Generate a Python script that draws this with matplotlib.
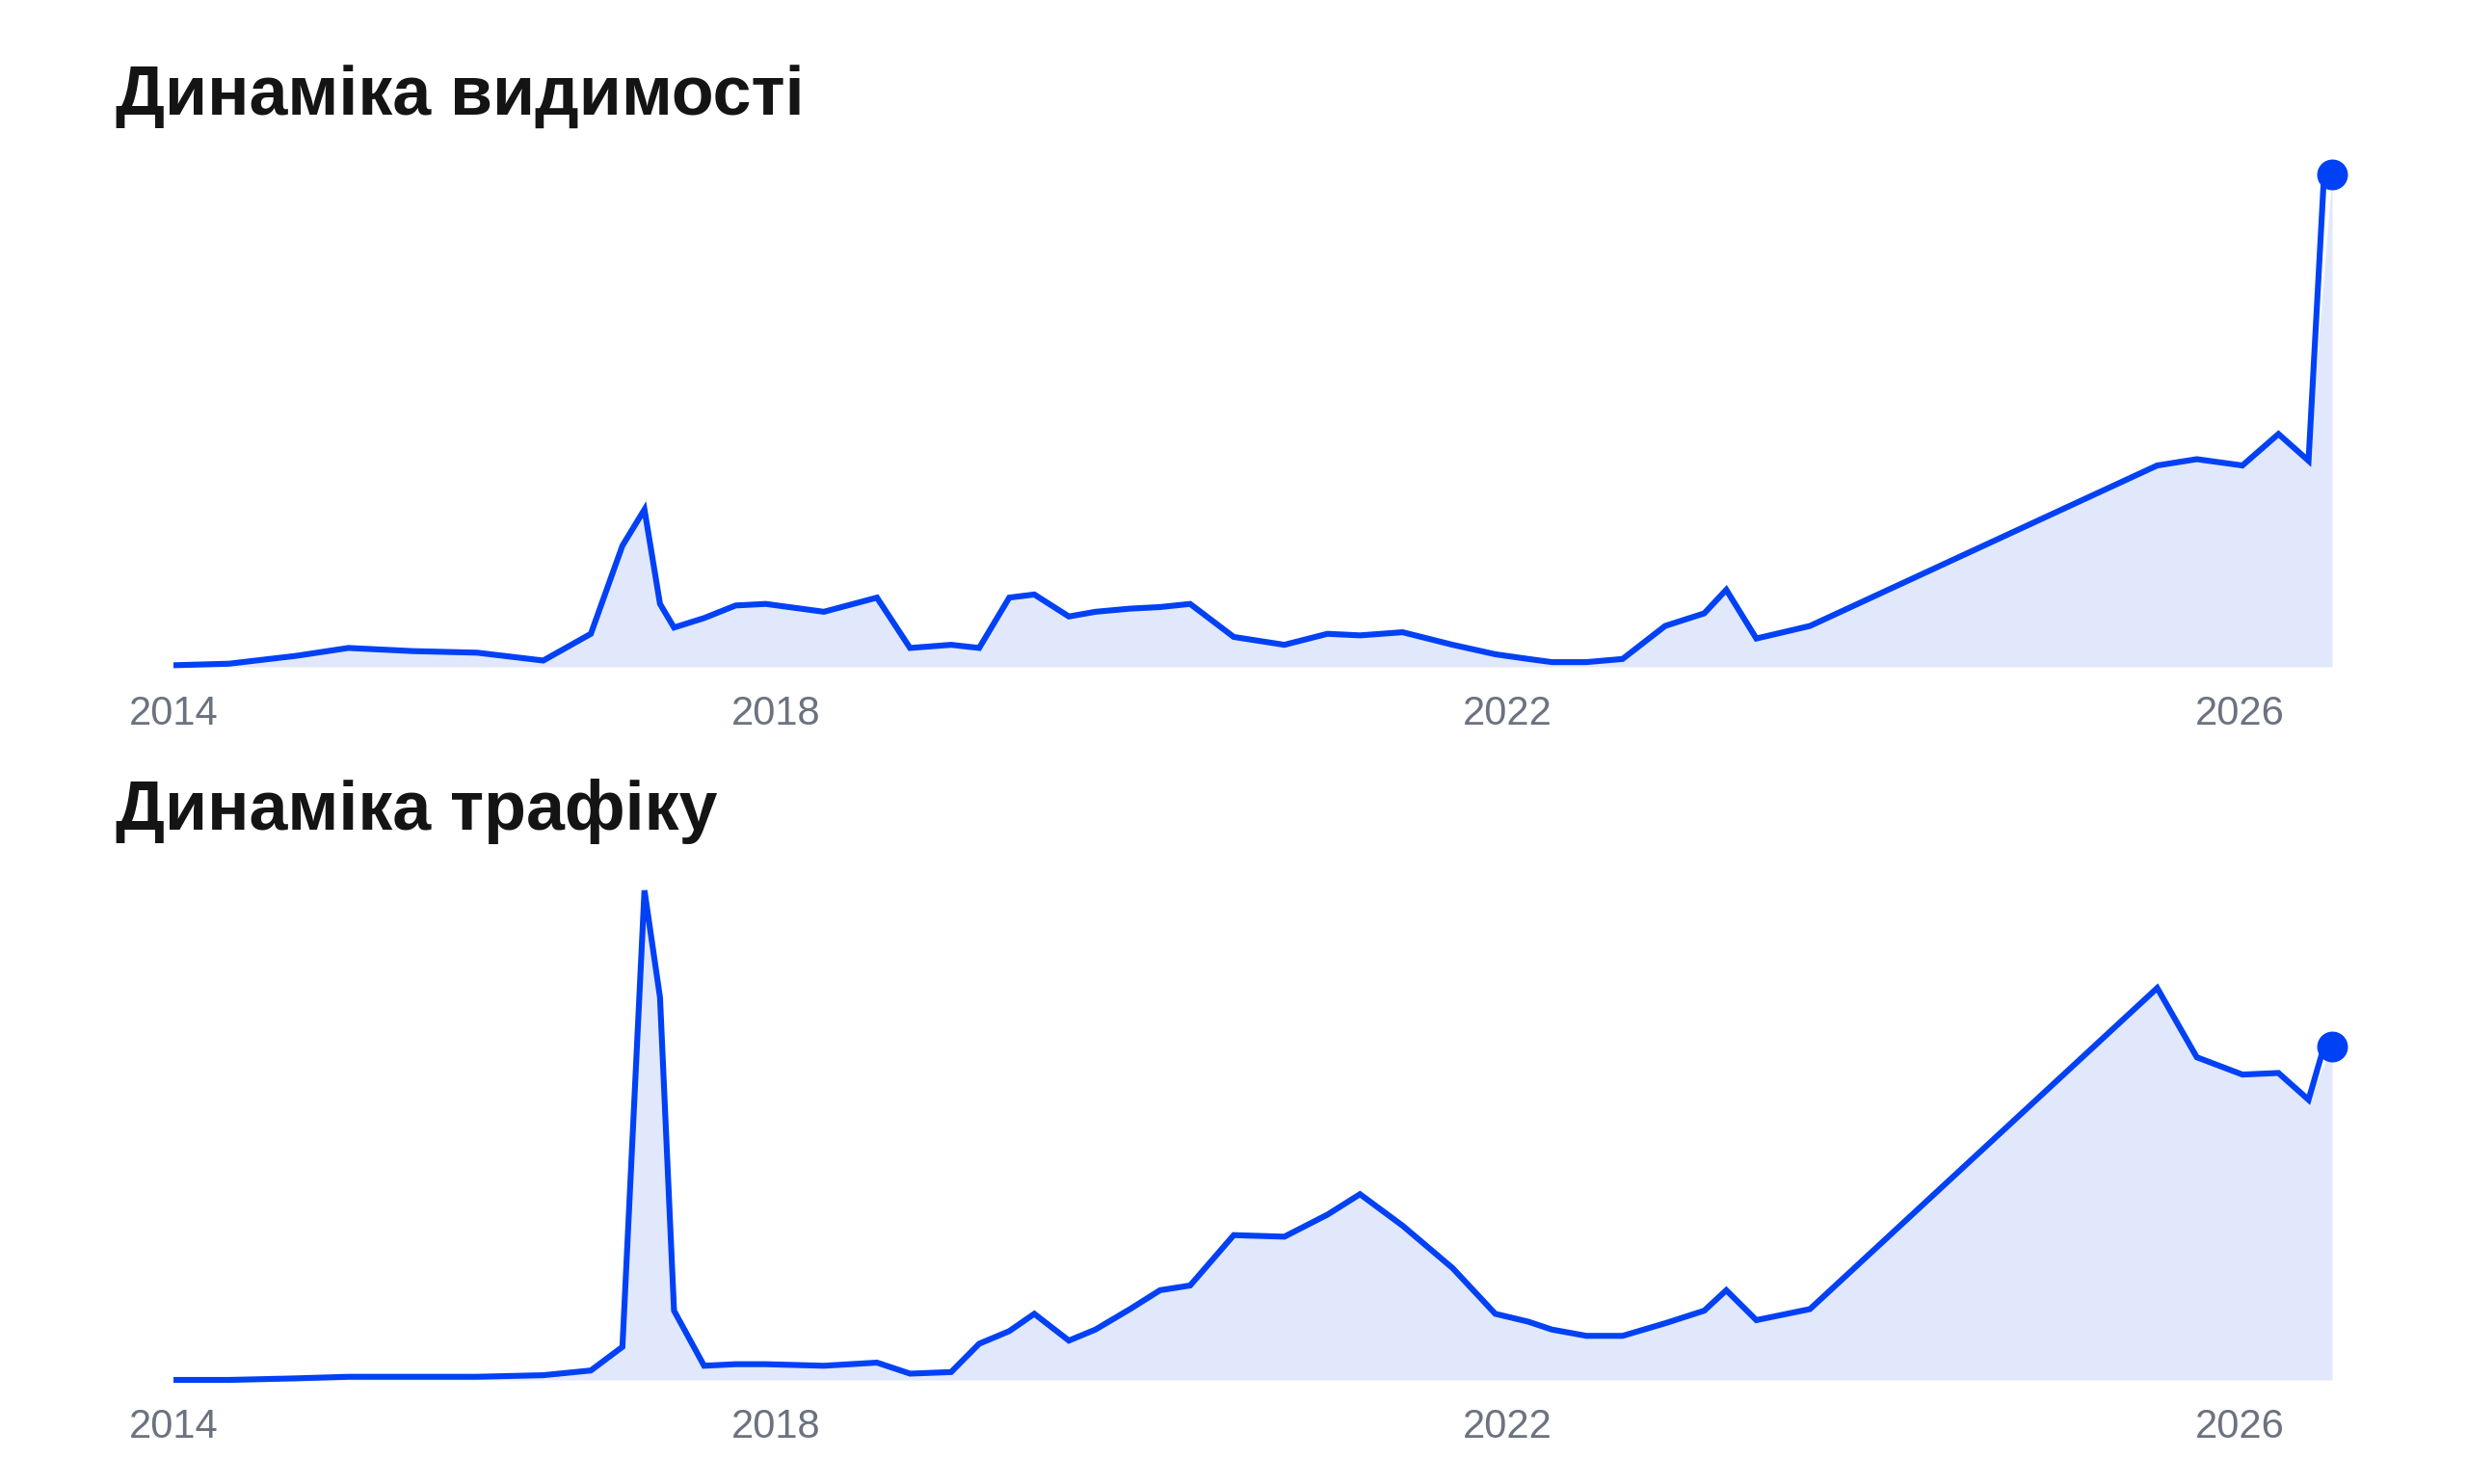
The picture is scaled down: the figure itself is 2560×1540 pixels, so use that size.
import matplotlib
matplotlib.use("Agg")
import matplotlib.pyplot as plt
import numpy as np
import pandas as pd

# ---- data ----
dates = [
    "2014-09-17", "2015-01-06", "2015-05-20", "2015-09-01", "2016-01-08", "2016-05-15",
    "2016-09-24", "2016-12-28", "2017-03-01", "2017-04-14", "2017-05-15", "2017-06-12",
    "2017-08-11", "2017-10-13", "2017-12-12", "2018-04-07", "2018-07-22", "2018-09-26",
    "2018-12-17", "2019-02-11", "2019-04-12", "2019-06-01", "2019-08-09", "2019-10-01",
    "2019-12-09", "2020-02-07", "2020-04-07", "2020-07-03", "2020-10-12", "2021-01-06",
    "2021-03-12", "2021-06-05", "2021-09-13", "2021-12-07", "2022-02-11", "2022-03-30",
    "2022-06-07", "2022-08-18", "2022-11-11", "2023-01-28", "2023-03-13", "2023-05-12",
    "2023-08-27", "2025-07-20", "2025-10-07", "2026-01-06", "2026-03-19", "2026-05-18",
    "2026-07-04",
]
# the stroked line stops slightly before the last (marker / area) point
line_end_date = "2026-06-18"
visibility = [
    1, 2, 7, 12, 10, 9, 4, 21, 77, 100, 40, 25, 31, 39, 40, 35, 44, 12, 14, 12,
    44, 46, 32, 35, 37, 38, 40, 19, 14, 21, 20, 22, 14, 8, 5, 3, 3, 5, 26, 34,
    49, 18, 26, 128, 132, 128, 148, 131, 313,
]
traffic = [
    0, 0, 1, 2, 2, 2, 3, 6, 21, 311, 243, 44, 9, 10, 10, 9, 11, 4, 5, 23,
    31, 42, 25, 32, 45, 57, 60, 92, 91, 105, 118, 98, 71, 42, 37, 32, 28, 28, 36, 44,
    57, 38, 45, 249, 205, 194, 195, 178, 212,
]
titles = ["Динаміка видимості", "Динаміка трафіку"]
tick_dates = ["2014-09-17", "2018-01-01", "2022-01-01", "2026-01-01"]
tick_labels = ["2014", "2018", "2022", "2026"]

LINE = "#0041F5"
FILL = "#E2E8FC"
GRAY = "#6B7280"
TITLE = "#141414"

plt.rcParams["font.family"] = ["Liberation Sans", "DejaVu Sans"]

W, H = 2560, 1540
fig = plt.figure(figsize=(W / 100, H / 100), dpi=100)
fig.patch.set_facecolor("white")

x = pd.to_datetime(dates)
xl = pd.to_datetime(dates[:-1] + [line_end_date])
xt = pd.to_datetime(tick_dates)

# axes boxes in pixels: (left, right, baseline_y, top_y)
boxes = [(180, 2420, 692, 181), (180, 2420, 1432, 924)]
title_base = [120, 861]
series = [visibility, traffic]

for i in range(2):
    l, r, b, t = boxes[i]
    ax = fig.add_axes([l / W, 1 - b / H, (r - l) / W, (b - t) / H])
    y = np.array(series[i], dtype=float)
    ax.fill_between(x, 0, y, color=FILL, linewidth=0, zorder=1)
    ax.plot(xl, y, color=LINE, linewidth=4.4, solid_joinstyle="miter",
            solid_capstyle="butt", clip_on=False, zorder=3)
    ax.plot(x[-1:], y[-1:], "o", color=LINE, markersize=23, markeredgewidth=0,
            clip_on=False, zorder=4)
    ax.set_xlim(x[0], x[-1])
    ax.set_ylim(0, y.max())
    for s in ax.spines.values():
        s.set_visible(False)
    ax.set_yticks([])
    ax.set_xticks(xt)
    ax.set_xticklabels(tick_labels)
    ax.tick_params(axis="x", length=0, pad=43, labelsize=30, labelcolor=GRAY)
    for lab in ax.get_xticklabels():
        lab.set_verticalalignment("baseline")
    ax.patch.set_alpha(0)
    fig.text(120 / W, 1 - title_base[i] / H, titles[i], fontsize=51.7,
             fontweight="bold", color=TITLE, ha="left", va="baseline")

fig.savefig("out.png", dpi=100, facecolor="white")
